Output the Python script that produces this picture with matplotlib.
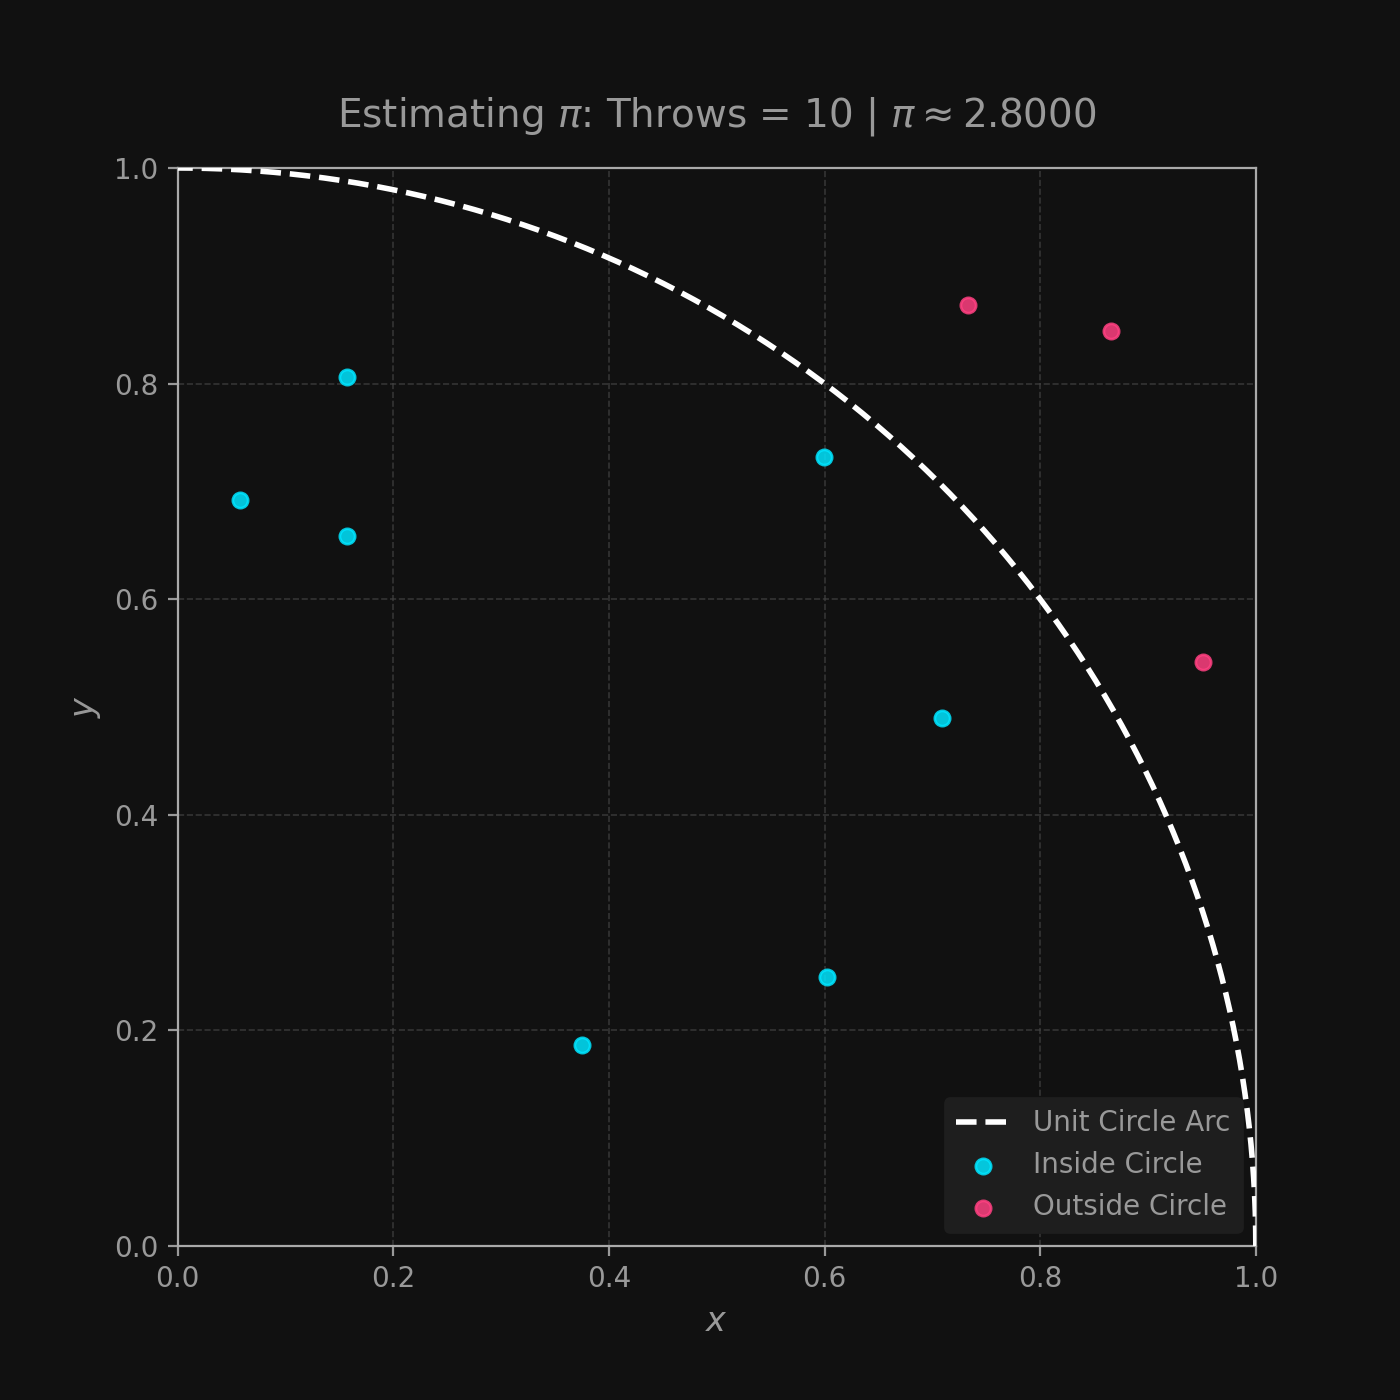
import matplotlib
matplotlib.use("Agg")
import matplotlib.pyplot as plt
import numpy as np

# throws
inside_x = [0.058, 0.157, 0.157, 0.599, 0.709, 0.602, 0.375]
inside_y = [0.692, 0.806, 0.659, 0.732, 0.490, 0.250, 0.186]
outside_x = [0.733, 0.866, 0.951]
outside_y = [0.873, 0.849, 0.542]
n_throws = 10
pi_est = 4 * len(inside_x) / n_throws

bg = '#111111'
txt = '#999999'

fig, ax = plt.subplots(figsize=(7, 7), dpi=200)
fig.patch.set_facecolor(bg)
ax.set_facecolor(bg)

t = np.linspace(0, np.pi / 2, 300)
ax.plot(np.cos(t), np.sin(t), '--', color='white', lw=2, label='Unit Circle Arc', zorder=3)
ax.scatter(inside_x, inside_y, s=30, color='#00E5FF', alpha=0.85, label='Inside Circle', zorder=4)
ax.scatter(outside_x, outside_y, s=30, color='#FF4081', alpha=0.85, label='Outside Circle', zorder=4)

ax.set_xlim(0, 1)
ax.set_ylim(0, 1)
ax.set_aspect('equal')
ax.grid(True, color='#444444', linestyle='--', linewidth=0.6, alpha=0.7)
for s in ax.spines.values():
    s.set_color('#aaaaaa')
ax.tick_params(colors=txt, labelsize=10)
for lab in ax.get_xticklabels() + ax.get_yticklabels():
    lab.set_color(txt)
ax.set_xlabel('$x$', color=txt, fontsize=12)
ax.set_ylabel('$y$', color=txt, fontsize=12)
ax.set_title(r'Estimating $\pi$: Throws = %d | $\pi \approx %.4f$' % (n_throws, pi_est),
             color=txt, fontsize=14, pad=15)

leg = ax.legend(loc='lower right', fontsize=10, facecolor='#1e1e1e', edgecolor='#1e1e1e',
                framealpha=1.0)
for tx in leg.get_texts():
    tx.set_color(txt)

plt.subplots_adjust(left=0.127, right=0.897, bottom=0.11, top=0.88)
fig.savefig('out.png', dpi=200, facecolor=bg)
